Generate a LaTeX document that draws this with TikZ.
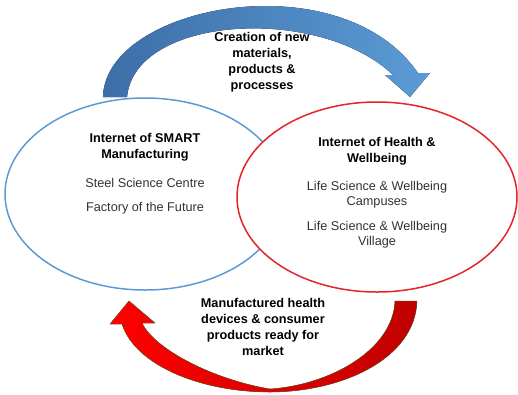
\documentclass[tikz,border=0pt]{standalone}
\usepackage{fontspec}
\setmainfont{Liberation Sans}
\usetikzlibrary{shapes.geometric}
\definecolor{gblue}{HTML}{5B9BD5}
\definecolor{gdarkblue}{HTML}{3D6EA8}
\definecolor{gred}{HTML}{E3242B}
\definecolor{gdarkred}{HTML}{C00000}
\begin{document}
\begin{tikzpicture}[x=1pt,y=-1pt]
    \tikzset{hub/.style={
      ellipse,
      draw,
      line width=1.5pt,
      fill=white,
      minimum width=280pt,
      minimum height=192pt,
      inner sep=0pt},
      hd/.style={font=\bfseries\fontsize{12.7}{16}\selectfont, align=center, inner sep=0pt},
      txt/.style={font=\fontsize{12.7}{15}\selectfont, align=center, inner sep=0pt, text=black!80}}
    \useasboundingbox (0,0) rectangle (518,394);
    \node[hub,draw=gblue] at (145,194) (smart) {};
    \node[hub,draw=gred,minimum height=190pt] at (377,197) (health) {};
    % curved arrows between the two hubs
    \fill[left color=gdarkblue,right color=gblue] (103,97) .. controls (105,5) and (340,-40) .. (418,73) -- (430,73) -- (410,97) -- (385,75) -- (393,75) .. controls (320,5) and (135,15) .. (127,97) -- cycle;
    \filldraw[draw=olive!60!black,line width=.4pt,left color=red,right color=gdarkred] (417,301) .. controls (415,360) and (340,392) .. (270,392) .. controls (200,392) and (135,365) .. (122,324) -- (110,324) -- (129,301) -- (155,323) -- (142,323) .. controls (155,350) and (215,380) .. (270,389) .. controls (330,385) and (393,350) .. (395,301) -- cycle;
    \node[hd] at (262,62) (create) {Creation of new\\materials,\\products \&\\processes};
    \node[hd] at (145,147) (smarthd) {Internet of SMART\\Manufacturing};
    \node[txt] at (145,196) (smarttxt) {Steel Science Centre\\[9pt]Factory of the Future};
    \node[hd] at (377,151) (healthhd) {Internet of Health \&\\Wellbeing};
    \node[txt] at (377,215) (healthtxt) {Life Science \& Wellbeing\\Campuses\\[10pt]Life Science \& Wellbeing\\Village};
    \node[hd] at (263,327) (made) {Manufactured health\\devices \& consumer\\products ready for\\market};
  \end{tikzpicture}
\end{document}
